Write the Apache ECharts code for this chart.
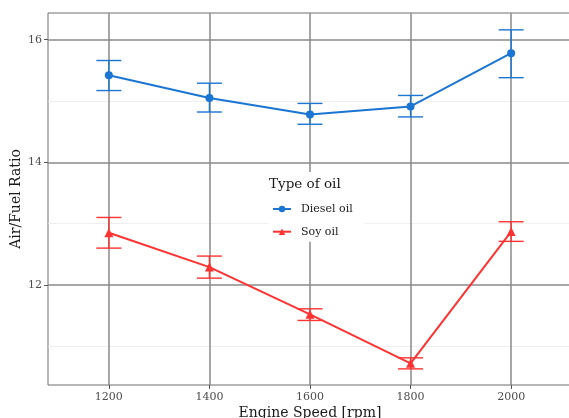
<!DOCTYPE html>
<html>
<head>
<meta charset="utf-8">
<script src="https://cdn.jsdelivr.net/npm/echarts@6/dist/echarts.min.js"></script>
<style>
  html, body { margin: 0; padding: 0; background: #fff; }
  #chart { width: 569px; height: 418px; }
</style>
</head>
<body>
<div id="chart"></div>
<script>
// Engine speed (rpm) and measured air/fuel ratio with error bars
const speeds = [1200, 1400, 1600, 1800, 2000];
const dieselMean = [15.42, 15.05, 14.78, 14.91, 15.78];
const dieselLow  = [15.17, 14.82, 14.62, 14.74, 15.38];
const dieselHigh = [15.66, 15.29, 14.96, 15.09, 16.16];
const soyMean = [12.85, 12.29, 11.52, 10.72, 12.87];
const soyLow  = [12.60, 12.11, 11.42, 10.63, 12.71];
const soyHigh = [13.10, 12.47, 11.61, 10.81, 13.03];
const xTicks = [1200, 1400, 1600, 1800, 2000];
const yTicks = [12, 14, 16];
const yMinorTicks = [11, 13, 15];

const FONT = 'DejaVu Serif';
const BLUE = '#1b75d3';
const RED = '#ff3232';

const majorStyle = { color: '#8a8a8a', width: 1.5, type: 'solid' };
const minorStyle = { color: '#ebebeb', width: 0.8, type: 'solid' };

function errorBars(name, color, lows, highs) {
  return {
    name: name + ' error',
    type: 'custom',
    z: 9,
    silent: true,
    encode: { x: 0, y: [1, 2] },
    data: speeds.map((s, i) => [s, lows[i], highs[i]]),
    renderItem: function (params, api) {
      const x = api.value(0);
      const lo = api.coord([x, api.value(1)]);
      const hi = api.coord([x, api.value(2)]);
      const half = 12.5;
      const style = { stroke: color, lineWidth: 1.4 };
      return {
        type: 'group',
        children: [
          { type: 'line', shape: { x1: lo[0], y1: lo[1], x2: hi[0], y2: hi[1] }, style: style },
          { type: 'line', shape: { x1: hi[0] - half, y1: hi[1], x2: hi[0] + half, y2: hi[1] }, style: style },
          { type: 'line', shape: { x1: lo[0] - half, y1: lo[1], x2: lo[0] + half, y2: lo[1] }, style: style }
        ]
      };
    }
  };
}

const chart = echarts.init(document.getElementById('chart'), null, { renderer: 'canvas' });

chart.setOption({
  animation: false,
  backgroundColor: '#fff',
  textStyle: { fontFamily: FONT },
  title: {
    text: 'Type of oil',
    left: 269,
    top: 177,
    padding: 0,
    z: 20,
    textStyle: { fontFamily: FONT, fontSize: 13.5, fontWeight: 'normal', color: '#1a1a1a' }
  },
  legend: {
    data: ['Diesel oil', 'Soy oil'],
    orient: 'vertical',
    left: 268,
    top: 172,
    padding: [30, 12, 3, 4],
    backgroundColor: '#fff',
    itemWidth: 18,
    itemHeight: 8,
    itemGap: 8.7,
    z: 15,
    textStyle: { fontFamily: FONT, fontSize: 11, color: '#1a1a1a', lineHeight: 14, padding: [0, 0, 0, 5] }
  },
  grid: {
    left: 48,
    top: 13,
    width: 524,
    height: 372,
    containLabel: false,
    outerBoundsMode: 'none',
    show: true,
    borderColor: '#6e6e6e',
    borderWidth: 1,
    backgroundColor: '#fff'
  },
  xAxis: {
    type: 'value',
    min: 1079,
    max: 2121,
    name: 'Engine Speed [rpm]',
    nameLocation: 'middle',
    nameGap: 21,
    nameMoveOverlap: false,
    nameTextStyle: { fontFamily: FONT, fontSize: 14, color: '#1a1a1a' },
    axisLine: { show: false },
    splitLine: { show: false },
    axisTick: { show: true, customValues: xTicks, length: 4, lineStyle: { color: '#555', width: 1 } },
    axisLabel: {
      customValues: xTicks, margin: 7, fontFamily: FONT, fontSize: 11, color: '#4d4d4d',
      formatter: v => String(v)
    }
  },
  yAxis: {
    type: 'value',
    min: 10.367,
    max: 16.435,
    name: 'Air/Fuel Ratio',
    nameLocation: 'middle',
    nameGap: 25,
    nameMoveOverlap: false,
    nameTextStyle: { fontFamily: FONT, fontSize: 14, color: '#1a1a1a' },
    axisLine: { show: false },
    splitLine: { show: false },
    axisTick: { show: true, customValues: yTicks, length: 4, lineStyle: { color: '#555', width: 1 } },
    axisLabel: {
      customValues: yTicks, margin: 6, fontFamily: FONT, fontSize: 11, color: '#4d4d4d',
      formatter: v => String(v)
    }
  },
  series: [
    {
      name: 'grid',
      type: 'line',
      data: [],
      z: 1,
      silent: true,
      markLine: {
        z: 1,
        silent: true,
        symbol: 'none',
        animation: false,
        label: { show: false },
        emphasis: { disabled: true },
        data: [
          ...yMinorTicks.map(v => ({ yAxis: v, lineStyle: minorStyle })),
          ...yTicks.map(v => ({ yAxis: v, lineStyle: majorStyle })),
          ...xTicks.map(v => ({ xAxis: v, lineStyle: majorStyle }))
        ]
      }
    },
    errorBars('Diesel oil', BLUE, dieselLow, dieselHigh),
    errorBars('Soy oil', RED, soyLow, soyHigh),
    {
      name: 'Diesel oil',
      type: 'line',
      z: 10,
      data: speeds.map((s, i) => [s, dieselMean[i]]),
      symbol: 'circle',
      symbolSize: 8,
      itemStyle: { color: BLUE },
      lineStyle: { color: BLUE, width: 2 }
    },
    {
      name: 'Soy oil',
      type: 'line',
      z: 10,
      data: speeds.map((s, i) => [s, soyMean[i]]),
      symbol: 'triangle',
      symbolSize: 9,
      itemStyle: { color: RED },
      lineStyle: { color: RED, width: 2 }
    }
  ]
});
</script>
</body>
</html>
